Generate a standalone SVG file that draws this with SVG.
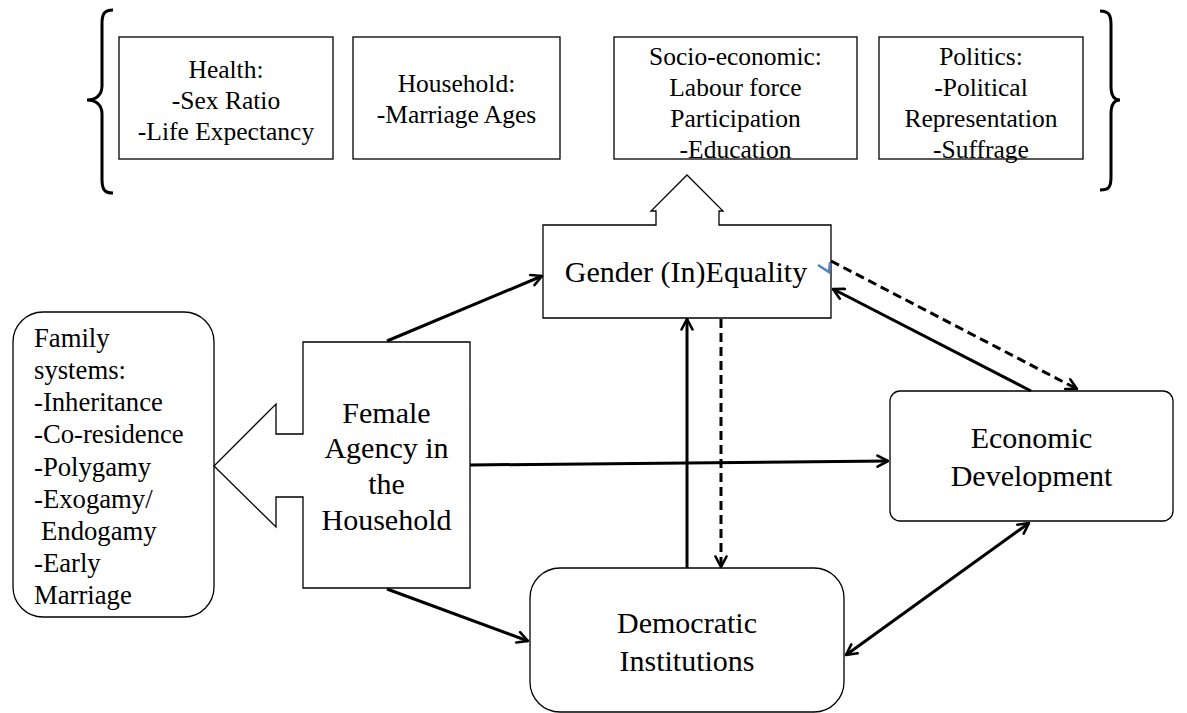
<svg xmlns="http://www.w3.org/2000/svg" width="1187" height="713" viewBox="0 0 1187 713">
<style>
text{font-family:"Liberation Serif","Times New Roman",serif;fill:#000}
.t{font-size:25.5px;text-anchor:middle}
.m{font-size:30px;text-anchor:middle}
.f{font-size:26.7px}
.box{fill:#fff;stroke:#000;stroke-width:1.3}
.brace{fill:none;stroke:#000;stroke-width:3}
.c{fill:none;stroke:#000;stroke-width:3}
.d{stroke-dasharray:9 5}
</style>
<defs>
<marker id="ah" viewBox="0 0 14 14" refX="12.5" refY="7" markerWidth="14" markerHeight="14" markerUnits="userSpaceOnUse" orient="auto-start-reverse">
<path d="M2,1.5 L12.5,7 L2,12.5" fill="none" stroke="#000" stroke-width="2.6" stroke-linecap="round" stroke-linejoin="round"/>
</marker>
</defs>
<rect width="1187" height="713" fill="#fff"/>
<g id="braces">
<path class="brace" d="M113,10 C104,10 102,14 102,24 L102,86 C102,95 96,100 87,100 C96,100 102,105 102,114 L102,179 C102,189 104,193 113,193"/>
<path class="brace" d="M1100,11 C1109,11 1111,15 1111,25 L1111,86 C1111,95 1114,100 1120,100 C1114,100 1111,105 1111,114 L1111,177 C1111,187 1109,190 1100,190"/>
</g>
<g id="health">
<rect class="box" x="119" y="37" width="214" height="122"/>
<text class="t" x="226" y="78">Health:</text>
<text class="t" x="226" y="109">-Sex Ratio</text>
<text class="t" x="226" y="140">-Life Expectancy</text>
</g>
<g id="household">
<rect class="box" x="353" y="37" width="207" height="122"/>
<text class="t" x="456.5" y="92">Household:</text>
<text class="t" x="456.5" y="123">-Marriage Ages</text>
</g>
<g id="socio">
<rect class="box" x="614" y="37" width="243" height="122"/>
<text class="t" x="735.5" y="65">Socio-economic:</text>
<text class="t" x="735.5" y="96">Labour force</text>
<text class="t" x="735.5" y="127">Participation</text>
<text class="t" x="735.5" y="158">-Education</text>
</g>
<g id="politics">
<rect class="box" x="879" y="37" width="204" height="122"/>
<text class="t" x="981" y="65">Politics:</text>
<text class="t" x="981" y="96">-Political</text>
<text class="t" x="981" y="127">Representation</text>
<text class="t" x="981" y="158">-Suffrage</text>
</g>
<g id="gender">
<path class="box" d="M543,225 L656,225 L656,211 L651,211 L687,175 L723,211 L719,211 L719,225 L831,225 L831,318 L543,318 Z"/>
<text class="m" x="686" y="282">Gender (In)Equality</text>
<path d="M818,265 L829,272 L830,262" fill="none" stroke="#4f81bd" stroke-width="2.5"/>
</g>
<g id="family">
<rect class="box" x="13" y="312" width="201" height="305" rx="30" ry="30"/>
<text class="f" x="34" y="347">Family</text>
<text class="f" x="34" y="379">systems:</text>
<text class="f" x="34" y="411">-Inheritance</text>
<text class="f" x="34" y="443">-Co-residence</text>
<text class="f" x="34" y="476">-Polygamy</text>
<text class="f" x="34" y="508">-Exogamy/</text>
<text class="f" x="41" y="540">Endogamy</text>
<text class="f" x="34" y="572">-Early</text>
<text class="f" x="34" y="604">Marriage</text>
</g>
<g id="female">
<path class="box" d="M303,342 L470,342 L470,588 L303,588 L303,497 L276,497 L276,527 L214,466 L276,404 L276,434 L303,434 Z"/>
<text class="m" x="386.5" y="423">Female</text>
<text class="m" x="386.5" y="458">Agency in</text>
<text class="m" x="386.5" y="494">the</text>
<text class="m" x="386.5" y="530">Household</text>
</g>
<g id="economic">
<rect class="box" x="890" y="391" width="283" height="130" rx="10" ry="10"/>
<text class="m" x="1031.5" y="448">Economic</text>
<text class="m" x="1031.5" y="486">Development</text>
</g>
<g id="democratic">
<rect class="box" x="530" y="568" width="314" height="144" rx="30" ry="30"/>
<text class="m" x="687" y="633">Democratic</text>
<text class="m" x="687" y="671">Institutions</text>
</g>
<g id="connectors">
<line class="c" x1="387" y1="341" x2="542" y2="276" marker-end="url(#ah)"/>
<line class="c" x1="470" y1="465" x2="888" y2="461" marker-end="url(#ah)"/>
<line class="c" x1="387" y1="589" x2="528" y2="641" marker-end="url(#ah)"/>
<line class="c" x1="687" y1="568" x2="687" y2="319" marker-end="url(#ah)"/>
<line class="c d" x1="721" y1="319" x2="721" y2="567" marker-end="url(#ah)"/>
<line class="c" x1="1031" y1="391" x2="833" y2="289" marker-end="url(#ah)"/>
<line class="c d" x1="831" y1="261" x2="1077" y2="389" marker-end="url(#ah)"/>
<line class="c" x1="846" y1="655" x2="1029" y2="523" marker-start="url(#ah)" marker-end="url(#ah)"/>
</g>
</svg>
